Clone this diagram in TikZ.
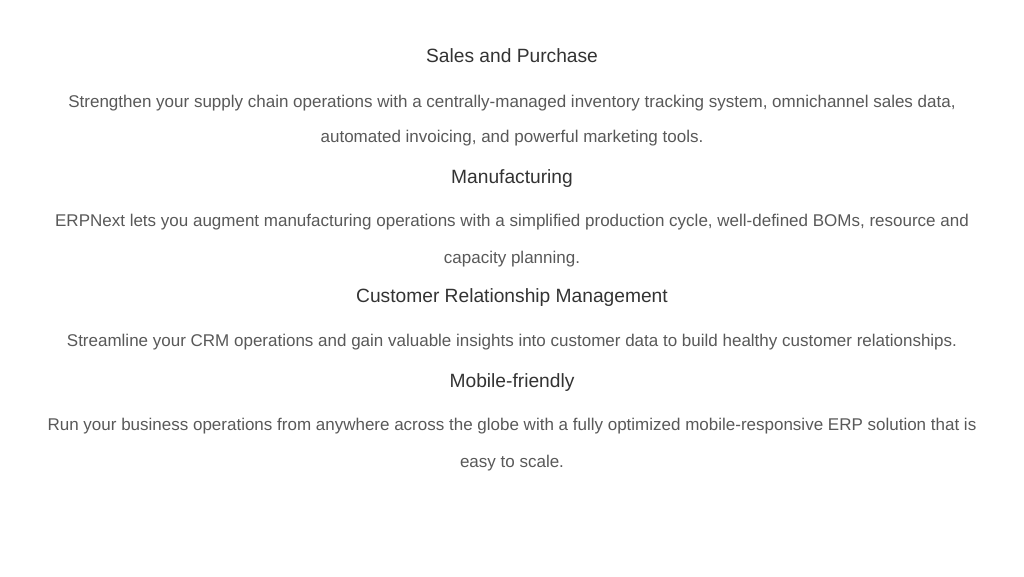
\documentclass[tikz,border=0pt]{standalone}
\usepackage{fontspec}
\setmainfont{Liberation Sans}
\definecolor{headc}{HTML}{333333}
\definecolor{bodyc}{HTML}{595959}
\begin{document}
\begin{tikzpicture}[x=1pt,y=-1pt,
  head/.style={anchor=base,inner sep=0pt,text=headc,font=\fontsize{19.2}{23}\selectfont},
  body/.style={anchor=base,inner sep=0pt,text=bodyc,font=\fontsize{17}{20}\selectfont}]
\useasboundingbox[fill=white] (0,0) rectangle (1024,576);
\node[head] (h1) at (512,62) {Sales and Purchase};
\node[body] (b1a) at (512,107) {Strengthen your supply chain operations with a centrally-managed inventory tracking system, omnichannel sales data,};
\node[body] (b1b) at (512,142) {automated invoicing, and powerful marketing tools.};
\node[head] (h2) at (512,183) {Manufacturing};
\node[body] (b2a) at (512,226) {ERPNext lets you augment manufacturing operations with a simplified production cycle, well-defined BOMs, resource and};
\node[body] (b2b) at (512,263) {capacity planning.};
\node[head] (h3) at (512,302) {Customer Relationship Management};
\node[body] (b3a) at (512,346) {Streamline your CRM operations and gain valuable insights into customer data to build healthy customer relationships.};
\node[head] (h4) at (512,387) {Mobile-friendly};
\node[body] (b4a) at (512,430) {Run your business operations from anywhere across the globe with a fully optimized mobile-responsive ERP solution that is};
\node[body] (b4b) at (512,467) {easy to scale.};
\end{tikzpicture}
\end{document}
